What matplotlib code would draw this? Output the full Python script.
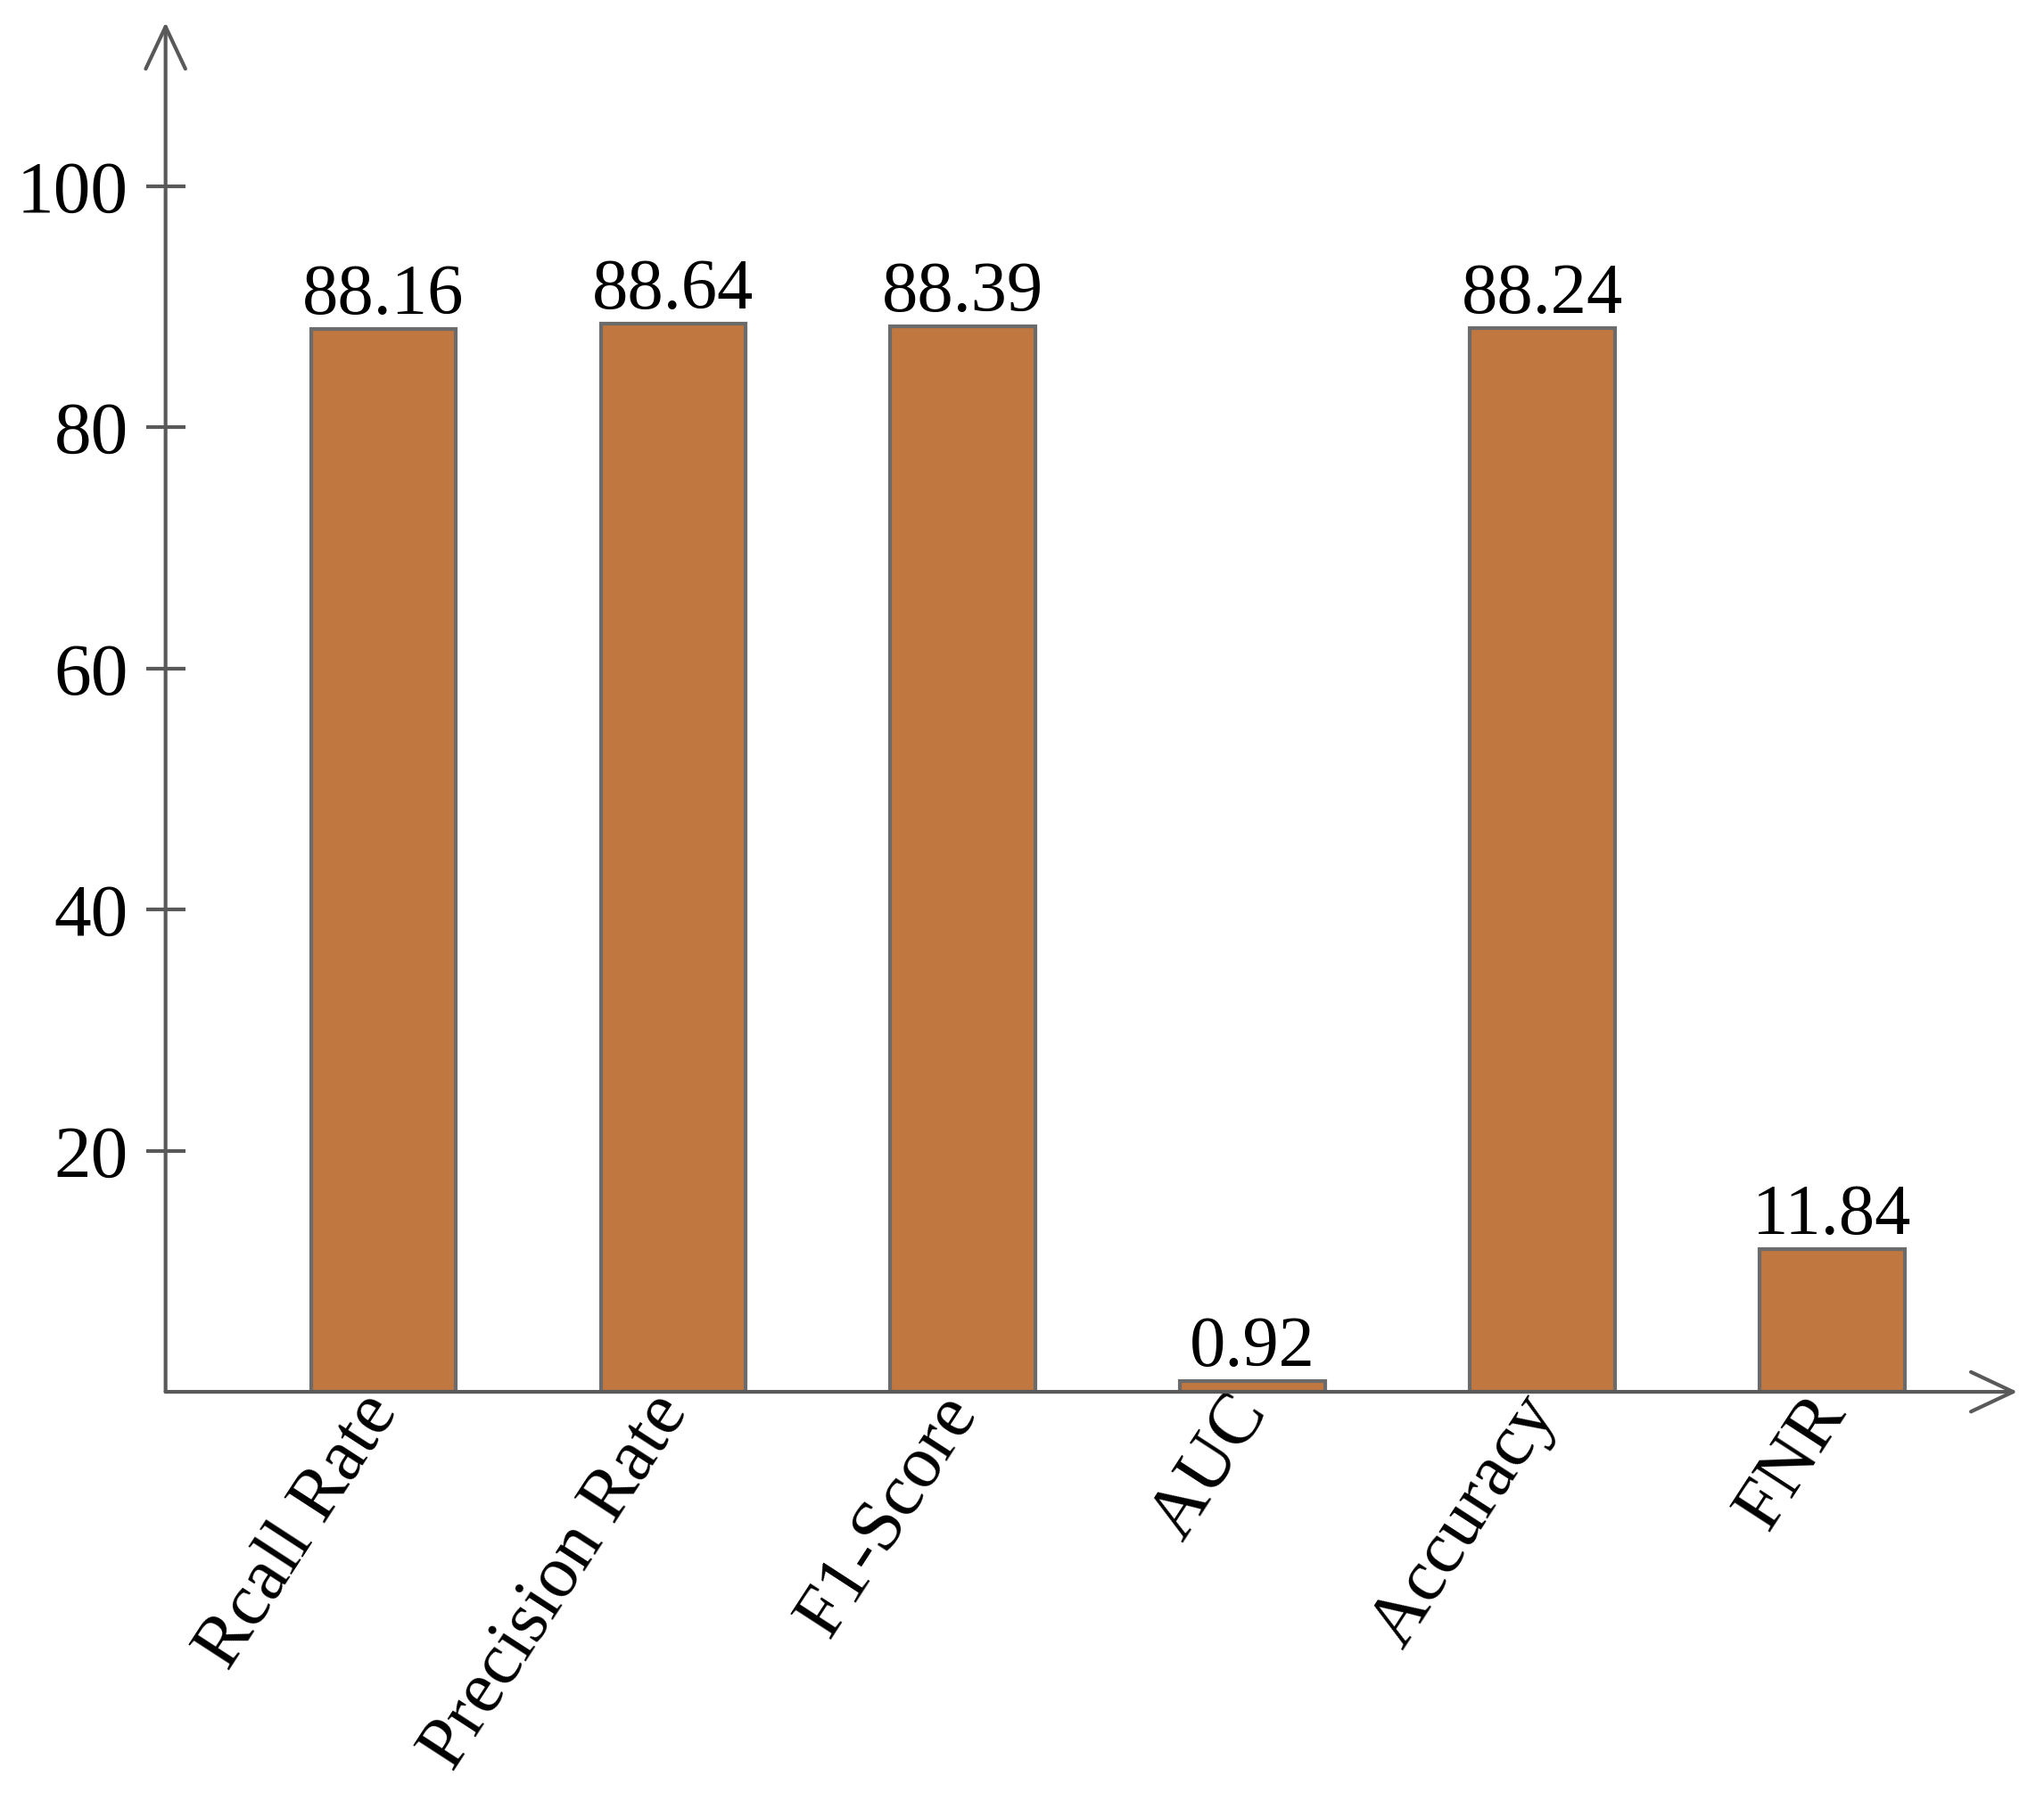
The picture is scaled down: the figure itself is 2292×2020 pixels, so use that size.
import numpy as np
import matplotlib.pyplot as plt

categories = ['Rcall Rate', 'Precision Rate', 'F1-Score', 'AUC', 'Accuracy', 'FNR']
values = [88.16, 88.64, 88.39, 0.92, 88.24, 11.84]
yticks = [20, 40, 60, 80, 100]

plt.rcParams['font.family'] = ['Liberation Serif', 'DejaVu Serif']
axis_color = '#595959'

fig = plt.figure(figsize=(22.92, 20.20), dpi=100)
ax = fig.add_axes([0.081, 0.2272, 0.906, 0.7604])

x = np.arange(len(categories))
bars = ax.bar(x, values, width=0.5, color='#C07840', edgecolor='#6b6b6b', linewidth=3)
ax.bar_label(bars, labels=[f'{v:.2f}' for v in values], padding=0, fontsize=58)

ax.set_xlim(-0.752, 5.64)
ax.set_ylim(0, 113.6)

for s in ax.spines.values():
    s.set_visible(False)

# axes drawn as arrows
arrow = dict(arrowstyle='->,head_length=3.4,head_width=1.6', color=axis_color, lw=3, shrinkA=0, shrinkB=0)
ax.annotate('', xy=(0, 1), xytext=(0, 0), xycoords='axes fraction', arrowprops=arrow)
ax.annotate('', xy=(1, 0), xytext=(0, 0), xycoords='axes fraction', arrowprops=arrow)

ax.set_yticks(yticks)
ax.tick_params(axis='y', direction='inout', length=32, width=3, color=axis_color, labelsize=60, pad=14)
ax.set_xticks(x)
ax.set_xticklabels(categories, rotation=57, ha='right', va='center', rotation_mode='anchor', fontsize=60)
ax.tick_params(axis='x', length=0, pad=8)

fig.savefig('out.png', dpi=100)
